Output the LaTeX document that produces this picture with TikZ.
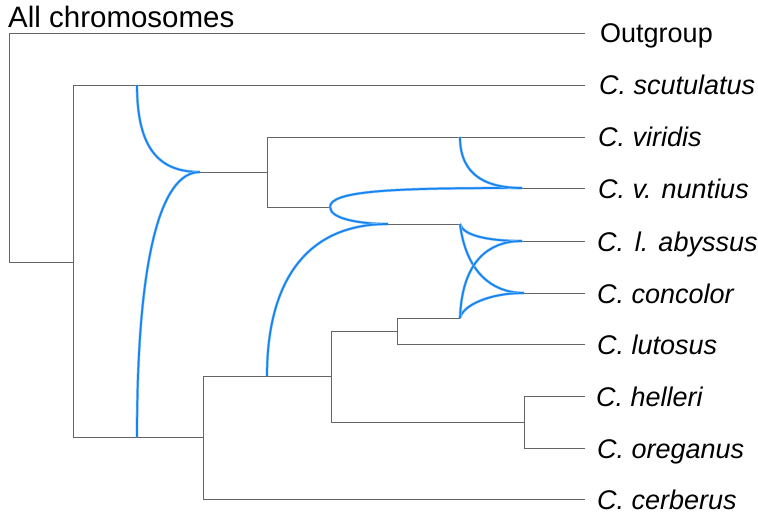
\documentclass[tikz,border=0pt]{standalone}
\usepackage{fontspec}
\setmainfont{Liberation Sans}
\definecolor{treegray}{RGB}{100,100,100}
\definecolor{retblue}{RGB}{22,132,240}
\definecolor{rethalo}{RGB}{150,200,250}
\begin{document}
\begin{tikzpicture}[x=1pt,y=-1pt,
  tree/.style={draw=treegray,line width=0.9pt},
  reti/.style={draw=retblue,line width=1.7pt,
    preaction={draw=rethalo,line width=2.8pt}},
  lab/.style={anchor=base west,inner sep=0pt,font=\fontsize{27}{32}\selectfont},
  taxon/.style={lab,font=\fontsize{27}{32}\selectfont\itshape}]
\useasboundingbox (0,0) rectangle (758,516);
% title
\node[anchor=base west,inner sep=0pt,font=\fontsize{29.5}{34}\selectfont] (title) at (8,28) {All chromosomes};
% coordinates
\coordinate (rootT) at (9,33);
\coordinate (rootB) at (9,262);
\coordinate (tOut) at (585,33);
\coordinate (n1) at (73,262);
\coordinate (n1T) at (73,85);
\coordinate (n1B) at (73,437);
\coordinate (tScu) at (585,85);
\coordinate (h1T) at (137,85);
\coordinate (h1B) at (137,437);
\coordinate (n2T) at (203,376);
\coordinate (n2B) at (203,499);
\coordinate (tCer) at (585,499);
\coordinate (h2B) at (267,376);
\coordinate (n3T) at (331,331);
\coordinate (n3B) at (331,422);
\coordinate (n4T) at (397,318);
\coordinate (n4B) at (397,344);
\coordinate (tLut) at (585,344);
\coordinate (h4B) at (460,318);
\coordinate (n5T) at (524,396);
\coordinate (n5B) at (524,448);
\coordinate (tHel) at (585,396);
\coordinate (tOre) at (585,448);
\coordinate (hA) at (200,172);
\coordinate (n6) at (267,172);
\coordinate (n6T) at (267,137);
\coordinate (n6B) at (267,207);
\coordinate (tVir) at (585,137);
\coordinate (hB) at (330,207);
\coordinate (hC) at (388,224);
\coordinate (hD) at (460,224);
\coordinate (hV) at (460,137);
\coordinate (eNun) at (522,188);
\coordinate (tNun) at (585,188);
\coordinate (eAby) at (522,241);
\coordinate (tAby) at (585,241);
\coordinate (eCon) at (524,293);
\coordinate (tCon) at (585,293);
% tree lines
\draw[tree] (tOut) -- (rootT) -- (rootB) -- (n1);
\draw[tree] (tScu) -- (n1T) -- (n1B) -- (n2B |- n1B);
\draw[tree] (n2T) -- (n2B) -- (tCer);
\draw[tree] (n2T) -- (n3T |- n2T);
\draw[tree] (n3T) -- (n3B) -- (n5B |- n3B);
\draw[tree] (n3T) -- (n4T |- n3T);
\draw[tree] (h4B) -- (n4T) -- (n4B) -- (tLut);
\draw[tree] (tHel) -- (n5T) -- (n5B) -- (tOre);
\draw[tree] (hA) -- (n6);
\draw[tree] (tVir) -- (n6T) -- (n6B) -- (hB);
\draw[tree] (hC) -- (hD);
\draw[tree] (eNun) -- (tNun);
\draw[tree] (eAby) -- (tAby);
\draw[tree] (eCon) -- (tCon);
% reticulation curves
\draw[reti] (h1T) .. controls (137,150) and (160,172) .. (hA);
\draw[reti] (hA) .. controls (160,172) and (137,260) .. (h1B);
\draw[reti] (hB) .. controls (330,190) and (400,188) .. (eNun);
\draw[reti] (hB) .. controls (330,220) and (365,224) .. (hC);
\draw[reti] (hC) .. controls (300,224) and (267,290) .. (h2B);
\draw[reti] (hV) .. controls (460,178) and (490,188) .. (eNun);
\draw[reti] (hD) .. controls (463,236) and (490,241) .. (eAby);
\draw[reti] (hD) .. controls (466,272) and (492,293) .. (eCon);
\draw[reti] (h4B) .. controls (463,305) and (490,293) .. (eCon);
\draw[reti] (h4B) .. controls (462,262) and (488,241) .. (eAby);
% labels
\node[lab] (lOut) at (600,43) {Outgroup};
\node[taxon] (lScu) at (599,95) {C. scutulatus};
\node[taxon] (lVir) at (598,147) {C. viridis};
\node[taxon] (lNun) at (598,198) {C. v. nuntius};
\node[taxon] (lAby) at (597,251) {C.\hspace{0.4em}l. abyssus};
\node[taxon] (lCon) at (597,303) {C. concolor};
\node[taxon] (lLut) at (597,354) {C. lutosus};
\node[taxon] (lHel) at (596,406) {C. helleri};
\node[taxon] (lOre) at (597,458) {C. oreganus};
\node[taxon] (lCer) at (597,509) {C. cerberus};
\end{tikzpicture}
\end{document}
